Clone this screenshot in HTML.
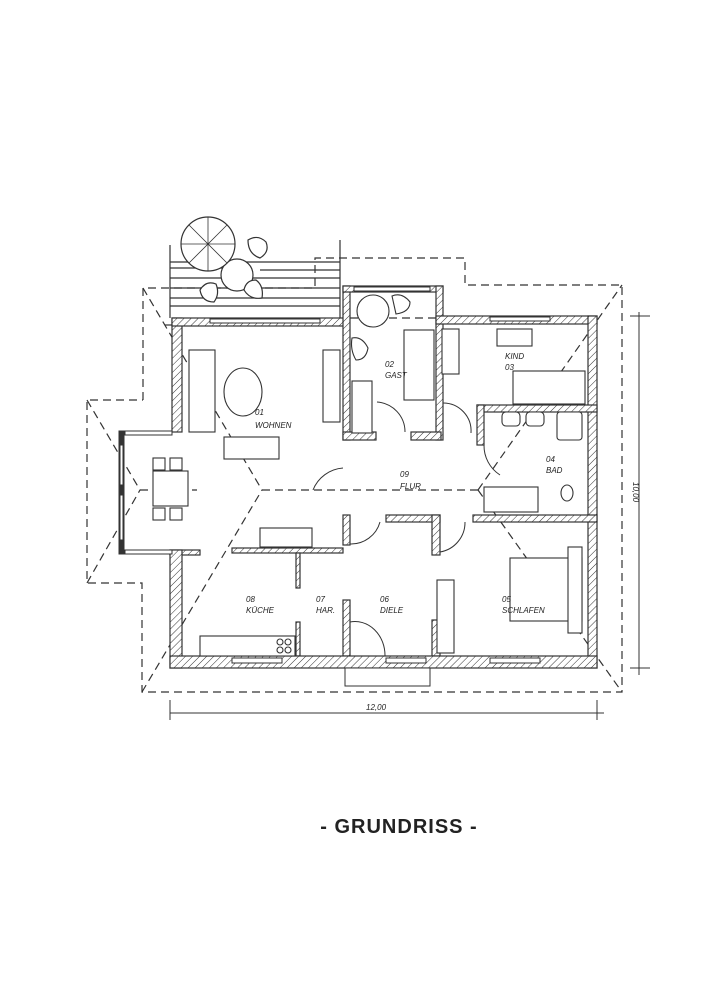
<!DOCTYPE html>
<html><head><meta charset="utf-8"><style>
html,body{margin:0;padding:0;background:#fff;}
svg{display:block}
text{font-family:"Liberation Sans",sans-serif;font-style:italic;fill:#222}
</style></head><body>
<svg width="720" height="1000" viewBox="0 0 720 1000" xmlns="http://www.w3.org/2000/svg">
<defs>
<pattern id="h" width="5" height="5" patternUnits="userSpaceOnUse" patternTransform="rotate(45)">
<rect width="5" height="5" fill="#fff"/><line x1="0" y1="0" x2="0" y2="5" stroke="#333" stroke-width="1"/>
</pattern>
</defs>
<g fill="none" stroke="#333" stroke-width="1.2" stroke-dasharray="8,5">
<!-- roof outline -->
<polyline points="143,400 143,288 315,288 315,258 465,258 465,285 622,285 622,692 142,692 142,583 87,583 87,400 143,400"/>
<!-- hips -->
<line x1="143" y1="288" x2="262" y2="490"/>
<line x1="142" y1="692" x2="262" y2="490"/>
<line x1="262" y1="490" x2="478" y2="490"/>
<line x1="478" y1="490" x2="622" y2="285"/>
<line x1="478" y1="490" x2="622" y2="692"/>
<line x1="87" y1="400" x2="140" y2="490"/>
<line x1="87" y1="583" x2="140" y2="490"/>
<line x1="140" y1="490" x2="197" y2="490"/>
<line x1="350" y1="318" x2="440" y2="318"/>
<line x1="165" y1="325" x2="172" y2="325"/>
</g>
<!-- terrace lines -->
<g stroke="#333" stroke-width="1.2">
<line x1="170" y1="262" x2="340" y2="262"/>
<line x1="170" y1="268" x2="240" y2="268"/>
<line x1="260" y1="270" x2="340" y2="270"/>
<line x1="170" y1="278" x2="340" y2="278"/>
<line x1="170" y1="288" x2="340" y2="288"/>
<line x1="170" y1="298" x2="340" y2="298"/>
<line x1="170" y1="306" x2="340" y2="306"/>
<line x1="170" y1="245" x2="170" y2="318"/>
<line x1="340" y1="240" x2="340" y2="318"/>
</g>
<!-- umbrella table -->
<g fill="#fff" stroke="#333" stroke-width="1.2">
<circle cx="237" cy="275" r="16"/>
<circle cx="208" cy="244" r="27"/>
<path d="M248,240 q10,-6 18,2 q4,10 -6,16 q-12,-4 -12,-18z"/>
<path d="M200,290 q6,-10 16,-6 q4,10 -2,18 q-12,0 -14,-12z"/>
<path d="M244,290 q2,-10 12,-10 q8,6 6,18 q-12,2 -18,-8z"/>
</g>
<g stroke="#333" stroke-width="0.8">
<line x1="208" y1="217" x2="208" y2="271"/><line x1="181" y1="244" x2="235" y2="244"/>
<line x1="189" y1="225" x2="227" y2="263"/><line x1="227" y1="225" x2="189" y2="263"/>
</g>
<!-- walls -->
<g fill="url(#h)" stroke="#333" stroke-width="1.2">
<rect x="172" y="318" width="10" height="114"/>
<rect x="172" y="318" width="176" height="8"/>
<rect x="343" y="286" width="7" height="154"/>
<rect x="343" y="286" width="100" height="6"/>
<rect x="436" y="286" width="7" height="154"/>
<rect x="436" y="316" width="161" height="8"/>
<rect x="588" y="316" width="9" height="352"/>
<rect x="343" y="432" width="33" height="8"/>
<rect x="411" y="432" width="30" height="8"/>
<rect x="477" y="405" width="120" height="7"/>
<rect x="477" y="405" width="7" height="40"/>
<rect x="473" y="515" width="124" height="7"/>
<rect x="343" y="515" width="7" height="30"/>
<rect x="386" y="515" width="54" height="7"/>
<rect x="432" y="515" width="8" height="40"/>
<rect x="343" y="600" width="7" height="56"/>
<rect x="432" y="620" width="8" height="36"/>
<rect x="232" y="548" width="111" height="5"/>
<rect x="296" y="553" width="4" height="35"/>
<rect x="296" y="622" width="4" height="34"/>
<rect x="170" y="550" width="30" height="5"/>
<rect x="170" y="550" width="12" height="118"/>
<rect x="170" y="656" width="427" height="12"/>
</g>
<!-- windows -->
<g fill="#fff" stroke="#333" stroke-width="1">
<rect x="210" y="319" width="110" height="4"/>
<rect x="354" y="287" width="76" height="4"/>
<rect x="490" y="317" width="60" height="4"/>
<rect x="232" y="658" width="50" height="5"/>
<rect x="386" y="658" width="40" height="5"/>
<rect x="490" y="658" width="50" height="5"/>
<rect x="125" y="431" width="47" height="4"/>
<rect x="125" y="550" width="47" height="4"/>
<rect x="119" y="431" width="5" height="123" fill="#333"/>
<rect x="120" y="445" width="3" height="40" fill="#fff"/>
<rect x="120" y="495" width="3" height="45" fill="#fff"/>
<rect x="345" y="668" width="85" height="18"/>
</g>
<!-- furniture -->
<g fill="#fff" stroke="#333" stroke-width="1.1">
<rect x="189" y="350" width="26" height="82"/>
<rect x="224" y="437" width="55" height="22"/>
<ellipse cx="243" cy="392" rx="19" ry="24"/>
<rect x="323" y="350" width="17" height="72"/>
<rect x="153" y="471" width="35" height="35"/>
<rect x="153" y="458" width="12" height="12"/><rect x="170" y="458" width="12" height="12"/>
<rect x="153" y="508" width="12" height="12"/><rect x="170" y="508" width="12" height="12"/>
<circle cx="373" cy="311" r="16"/>
<path d="M392,296 q10,-4 18,6 q0,10 -14,12z"/>
<path d="M352,338 q10,-2 16,10 q-2,12 -12,12 q-6,-10 -4,-22z"/>
<rect x="352" y="381" width="20" height="52"/>
<rect x="404" y="330" width="30" height="70"/>
<rect x="442" y="329" width="17" height="45"/>
<rect x="497" y="329" width="35" height="17"/>
<rect x="513" y="371" width="72" height="33"/>
<rect x="502" y="412" width="18" height="14" rx="4"/>
<rect x="526" y="412" width="18" height="14" rx="4"/>
<rect x="557" y="412" width="25" height="28" rx="3"/>
<rect x="484" y="487" width="54" height="25"/>
<ellipse cx="567" cy="493" rx="6" ry="8"/>
<rect x="260" y="528" width="52" height="19"/>
<rect x="200" y="636" width="95" height="20"/>
<circle cx="280" cy="642" r="3"/><circle cx="288" cy="642" r="3"/><circle cx="280" cy="650" r="3"/><circle cx="288" cy="650" r="3"/>
<rect x="437" y="580" width="17" height="73"/>
<rect x="510" y="558" width="72" height="63"/>
<rect x="568" y="547" width="14" height="86"/>
</g>
<!-- door swings -->
<g fill="none" stroke="#333" stroke-width="1">
<path d="M377,402 a30,30 0 0 1 28,30"/>
<path d="M443,403 a28,28 0 0 1 28,30"/>
<path d="M350,522 v22 a30,30 0 0 0 30,-22"/>
<path d="M440,522 v30 a30,30 0 0 0 25,-30"/>
<path d="M350,622 a30,34 0 0 1 35,34"/>
<path d="M313,490 a35,35 0 0 1 30,-22"/>
<path d="M484,445 a35,35 0 0 0 16,30"/>
</g>
<!-- dimensions -->
<g stroke="#333" stroke-width="1">
<line x1="170" y1="713" x2="604" y2="713"/>
<line x1="170" y1="700" x2="170" y2="720"/><line x1="597" y1="700" x2="597" y2="720"/>
<line x1="639" y1="312" x2="639" y2="675"/>
<line x1="630" y1="316" x2="650" y2="316"/><line x1="630" y1="668" x2="650" y2="668"/>
</g>
<g font-size="8">
<text x="255" y="415">01</text><text x="255" y="428">WOHNEN</text>
<text x="385" y="367">02</text><text x="385" y="378">GAST</text>
<text x="505" y="359">KIND</text><text x="505" y="370">03</text>
<text x="546" y="462">04</text><text x="546" y="473">BAD</text>
<text x="400" y="477">09</text><text x="400" y="489">FLUR</text>
<text x="246" y="602">08</text><text x="246" y="613">KÜCHE</text>
<text x="316" y="602">07</text><text x="316" y="613">HAR.</text>
<text x="380" y="602">06</text><text x="380" y="613">DIELE</text>
<text x="502" y="602">05</text><text x="502" y="613">SCHLAFEN</text>
<text x="366" y="710">12,00</text>
<text transform="translate(633,482) rotate(90)">10,00</text>
</g>
<text x="399" y="833" text-anchor="middle" font-size="20" font-weight="bold" style="font-style:normal;letter-spacing:1px" fill="#222">- GRUNDRISS -</text>
</svg>
</body></html>
